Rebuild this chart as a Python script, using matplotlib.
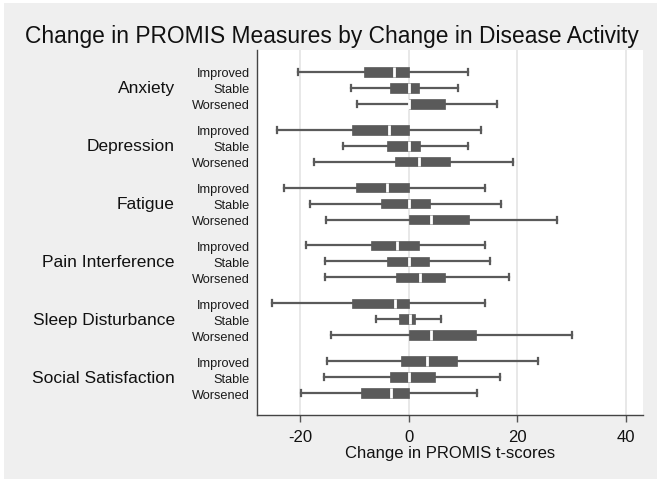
import matplotlib
matplotlib.use("Agg")
import matplotlib.pyplot as plt
import matplotlib.transforms as mtransforms
from matplotlib.patches import Rectangle

measures = ["Anxiety", "Depression", "Fatigue", "Pain Interference",
            "Sleep Disturbance", "Social Satisfaction"]
groups = ["Improved", "Stable", "Worsened"]

# per measure: values for Improved, Stable, Worsened
whisk_lo = [[-20.4, -10.7, -9.5],
            [-24.2, -12.2, -17.5],
            [-23.0, -18.2, -15.2],
            [-19.0, -15.5, -15.4],
            [-25.1, -6.1, -14.3],
            [-15.0, -15.7, -19.8]]
q1 = [[-8.3, -3.5, 0.0],
      [-10.4, -4.1, -2.6],
      [-9.8, -5.2, 0.0],
      [-6.9, -4.1, -2.3],
      [-10.4, -1.8, 0.0],
      [-1.5, -3.5, -8.8]]
med = [[-2.8, 0.0, 0.0],
       [-3.6, 0.0, 1.9],
       [-4.1, 0.0, 4.0],
       [-2.1, 0.0, 2.0],
       [-2.5, 0.3, 4.0],
       [3.3, 0.0, -3.3]]
q3 = [[0.0, 1.8, 6.7],
      [0.0, 2.0, 7.6],
      [0.0, 3.9, 11.1],
      [1.9, 3.7, 6.7],
      [0.0, 1.2, 12.4],
      [8.8, 4.9, 0.0]]
whisk_hi = [[10.9, 9.0, 16.3],
            [13.3, 10.9, 19.2],
            [14.1, 17.0, 27.3],
            [14.1, 14.9, 18.4],
            [14.1, 6.0, 30.0],
            [23.8, 16.7, 12.6]]

xticks = [-20, 0, 20, 40]

W, H = 664, 485
plt.rcParams["font.family"] = ["Liberation Sans", "DejaVu Sans"]
fig = plt.figure(figsize=(W / 100, H / 100), dpi=100)
fig.patch.set_facecolor("white")

bg = Rectangle((4 / W, 5 / H), 653 / W, 476 / H, transform=fig.transFigure,
               facecolor="#efefef", edgecolor="none", zorder=-10)
fig.patches.append(bg)

ax = fig.add_axes([256.7 / W, 1 - 416 / H, 386 / W, 365 / H])
ax.set_zorder(1)
ax.set_facecolor("white")

stats = []
positions = []
step = 3.625
for gi, m in enumerate(measures):
    for ri, g in enumerate(groups):
        stats.append(dict(whislo=whisk_lo[gi][ri], q1=q1[gi][ri], med=med[gi][ri],
                          q3=q3[gi][ri], whishi=whisk_hi[gi][ri], label=g))
        positions.append(gi * step + ri)

boxc = "#5a5a5a"
ax.bxp(stats, positions=positions, vert=False, widths=0.6, patch_artist=True,
       showfliers=False,
       boxprops=dict(facecolor=boxc, edgecolor=boxc, linewidth=0.5),
       medianprops=dict(color="white", linewidth=2.0),
       whiskerprops=dict(color=boxc, linewidth=1.6),
       capprops=dict(color=boxc, linewidth=1.6),
       capwidths=0.38)

total = 5 * step + 2
ax.set_ylim(total + 1.375, -1.375)
ax.set_xlim(-28, 43.05)

ax.set_yticks(positions)
ax.set_yticklabels([g for _ in measures for g in groups], fontsize=9.2, color="#1a1a1a")
ax.tick_params(axis="y", length=0, pad=5)

blend = mtransforms.blended_transform_factory(fig.transFigure, ax.transData)
for gi, m in enumerate(measures):
    ax.annotate(m, xy=(175 / W, gi * step + 1), xycoords=blend,
                ha="right", va="center", fontsize=12.5, color="#111111",
                annotation_clip=False)

ax.set_xticks(xticks)
ax.set_xticklabels([str(t) for t in xticks], fontsize=12, color="#111111")
ax.tick_params(axis="x", length=5, width=1, color="#555555", pad=5)
ax.grid(axis="x", color="#e4e4e4", linewidth=1.2)
ax.set_axisbelow(True)
ax.set_xlabel("Change in PROMIS t-scores", fontsize=12, color="#111111", labelpad=1)

for s in ["top", "right"]:
    ax.spines[s].set_visible(False)
for s in ["left", "bottom"]:
    ax.spines[s].set_color("#444444")
    ax.spines[s].set_linewidth(1.0)

fig.text(332 / W, 1 - 36 / H, "Change in PROMIS Measures by Change in Disease Activity",
         ha="center", va="center", fontsize=16.4, color="#111111")

fig.savefig("out.png", dpi=100)
